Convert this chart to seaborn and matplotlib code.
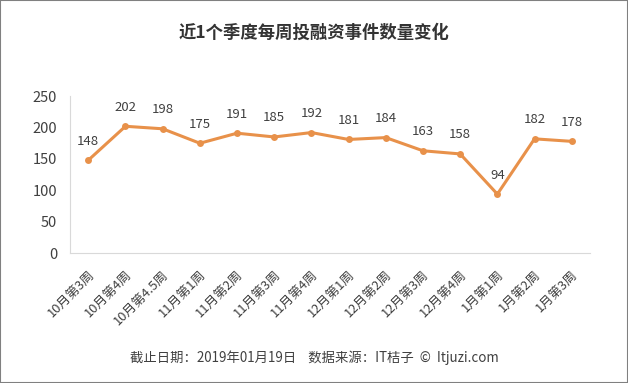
import pandas as pd
import matplotlib.pyplot as plt
import matplotlib.patches as mpatches
import seaborn as sns

sns.set_theme(style='white')
plt.rcParams['font.family'] = ['Noto Sans CJK SC', 'DejaVu Sans']

weeks = ['10月第3周', '10月第4周', '10月第4.5周', '11月第1周', '11月第2周', '11月第3周', '11月第4周',
         '12月第1周', '12月第2周', '12月第3周', '12月第4周', '1月第1周', '1月第2周', '1月第3周']
counts = [148, 202, 198, 175, 191, 185, 192, 181, 184, 163, 158, 94, 182, 178]
yticks = [0, 50, 100, 150, 200, 250]

df = pd.DataFrame({'week': weeks, 'count': counts})
df['pos'] = range(len(df))

line_color = '#E8914A'
text_color = '#404040'

fig = plt.figure(figsize=(6.28, 3.83), dpi=100)
ax = fig.add_axes([0.111, 0.339, 0.829, 0.41])

sns.lineplot(data=df, x='pos', y='count', ax=ax, color=line_color, linewidth=2.2,
             marker='o', markersize=5, markeredgewidth=0)

for x, y in zip(df['pos'], df['count']):
    ax.annotate(str(y), (x, y), xytext=(0, 9), textcoords='offset points',
                ha='center', va='bottom', fontsize=9.5, color=text_color)

ax.set_xlim(-0.5, len(df) - 0.5)
ax.set_ylim(0, 250)
ax.set_yticks(yticks)
ax.set_yticklabels([str(t) for t in yticks], fontsize=10.5, color=text_color)
ax.set_xticks(df['pos'])
ax.set_xticklabels(weeks, rotation=45, ha='right', rotation_mode='anchor',
                   fontsize=9.3, color=text_color)
ax.tick_params(axis='y', length=0, pad=9)
ax.tick_params(axis='x', length=0, pad=11)
ax.set_xlabel('')
ax.set_ylabel('')

for s in ['top', 'right']:
    ax.spines[s].set_visible(False)
ax.spines['left'].set_color('#d9d9d9')
ax.spines['bottom'].set_color('#d9d9d9')
ax.spines['left'].set_linewidth(0.8)
ax.spines['bottom'].set_linewidth(0.8)

fig.text(0.5, 0.913, '近1个季度每周投融资事件数量变化', ha='center', va='center',
         fontsize=12.5, fontweight='bold', color='#333333')
fig.text(0.5, 0.066, '截止日期：2019年01月19日    数据来源：IT桔子  ©  Itjuzi.com', ha='center',
         va='center', fontsize=9.6, color=text_color)

fig.patches.append(mpatches.Rectangle((0, 0), 1, 1, transform=fig.transFigure, fill=False,
                                      edgecolor='#808080', linewidth=1.5))

fig.savefig('out.png', dpi=100)
